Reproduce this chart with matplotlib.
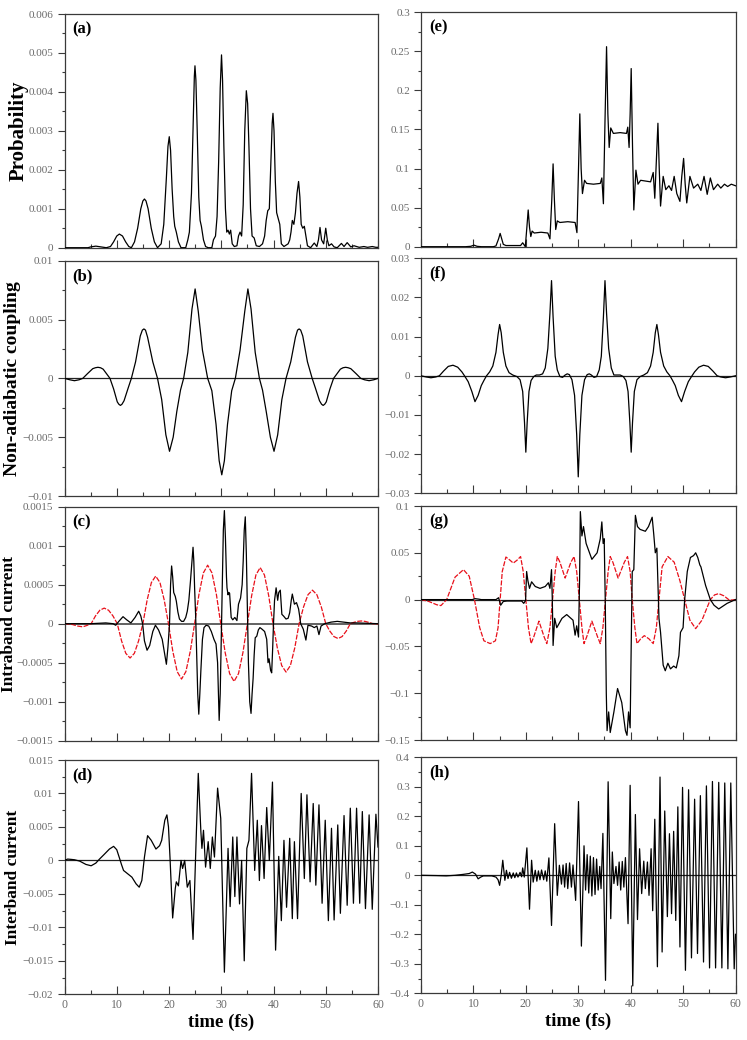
import matplotlib
matplotlib.use("Agg")
import matplotlib.pyplot as plt
from matplotlib.ticker import MultipleLocator

plt.rcParams['font.family'] = ['Liberation Serif', 'DejaVu Serif']
plt.rcParams['axes.unicode_minus'] = True

# ---------------- data (time in fs) ----------------
time_ticks = [0, 10, 20, 30, 40, 50, 60]
time_labels = ['0', '10', '20', '30', '40', '50', '60']

# (a) excitation probability, weak field
a_pts = [(0,0),(4.5,0),(5.0,0.00002),(6.0,0.00004),(7.0,0.00002),(8.0,0.0),(8.8,0.00003),(9.4,0.00015),
         (10.0,0.0003),(10.5,0.00035),(11.1,0.0003),(11.7,0.00015),(12.3,0.00003),(12.8,0.0),
         (13.4,0.00015),(14.0,0.0005),(14.6,0.001),(15.0,0.0012),(15.3,0.00125),(15.6,0.0012),(16.0,0.001),
         (16.6,0.0005),(17.2,0.00015),(17.8,0.0),(18.5,0.0001),(19.0,0.0006),(19.5,0.0018),(19.8,0.0026),
         (20.05,0.00285),(20.3,0.0025),(20.6,0.0015),(20.9,0.0008),(21.1,0.00055),(21.4,0.0004),(21.8,0.00015),
         (22.3,0.0),(23.2,0.0),(23.6,0.0002),(23.9,0.0004),(24.3,0.0014),(24.6,0.003),(24.85,0.0044),
         (24.97,0.00467),(25.15,0.0043),(25.4,0.003),(25.7,0.0013),(25.95,0.0007),(26.2,0.00055),(26.6,0.0002),
         (27.0,0.00003),(27.5,0.0),(28.2,0.0),(28.5,0.0002),(28.9,0.0003),(29.2,0.0008),(29.5,0.0022),
         (29.8,0.0041),(30.05,0.00495),(30.25,0.0043),(30.5,0.0026),(30.8,0.001),(31.05,0.0004),(31.3,0.00045),
         (31.55,0.00035),(31.8,0.00045),(32.1,0.0001),(32.5,0.00003),(33.0,0.00005),(33.3,0.0003),(33.6,0.0004),
         (33.9,0.0003),(34.2,0.0011),(34.5,0.003),(34.8,0.00403),(35.05,0.0037),(35.3,0.0026),(35.6,0.001),
         (35.9,0.0003),(36.3,0.00025),(36.7,0.00005),(37.3,0.00003),(37.9,0.0001),(38.3,0.0003),(38.6,0.0007),
         (38.9,0.00095),(39.2,0.001),(39.5,0.0022),(39.75,0.0032),(39.9,0.00345),(40.1,0.003),(40.35,0.0017),
         (40.6,0.0009),(40.9,0.00075),(41.2,0.0006),(41.5,0.0001),(42.0,0.00003),(42.8,0.0001),(43.1,0.0002),
         (43.35,0.0004),(43.6,0.0007),(43.9,0.0006),(44.2,0.0009),(44.5,0.0014),(44.8,0.0017),(45.05,0.0013),
         (45.3,0.0006),(45.6,0.0005),(45.9,0.00055),(46.2,0.0003),(46.5,0.00005),(47.1,0.0),(47.8,0.00012),
         (48.3,0.00003),(48.6,0.0002),(48.9,0.00052),(49.2,0.0002),(49.6,0.0001),(49.8,0.0003),(50.0,0.0005),
         (50.3,0.0002),(50.6,0.00005),(51.1,0.0001),(51.6,0.00002),(52.2,0.0),(53.0,0.00011),(53.5,0.00003),
         (54.1,0.00013),(54.8,0.00002),(55.4,0.00005),(56.4,0.00001),(57.3,0.00003),(58.0,0.00001),
         (58.9,0.00003),(59.6,0.00001),(60,0.00001)]

# (b) non-adiabatic coupling, weak field
b_pts = [(0,0),(1.0,-0.00012),(1.9,-0.0002),(2.8,-0.00012),(3.5,0),(4.4,0.0004),(5.4,0.00082),(5.9,0.0009),
         (6.4,0.00094),(6.9,0.0009),(7.4,0.00078),(8.2,0.0003),(8.7,0),(9.4,-0.0009),(10.1,-0.002),
         (10.4,-0.0022),(10.7,-0.0023),(11.0,-0.0022),(11.4,-0.0019),(12.2,-0.0008),(12.8,0),(13.6,0.0014),
         (14.5,0.0036),(14.9,0.0041),(15.2,0.0042),(15.5,0.0041),(15.9,0.0035),(16.9,0.0014),(17.8,0),
         (18.6,-0.0018),(19.4,-0.0048),(20.1,-0.0062),(20.8,-0.005),(21.5,-0.0028),(22.2,-0.001),
         (22.8,0),(23.6,0.0022),(24.4,0.0059),(25.0,0.0076),(25.6,0.0057),(26.4,0.0024),(27.4,0),
         (28.2,-0.00105),(29.0,-0.0039),(29.6,-0.007),(30.1,-0.0082),(30.6,-0.007),(31.2,-0.0039),
         (32.0,-0.00105),(32.7,0),(33.6,0.0024),(34.5,0.0057),(35.1,0.0076),(35.7,0.0059),(36.5,0.0022),
         (37.3,0),(37.9,-0.001),(38.6,-0.0028),(39.4,-0.005),(40.1,-0.0062),(40.8,-0.0048),(41.6,-0.0018),
         (42.4,0),(43.3,0.0014),(44.2,0.0035),(44.6,0.0041),(44.9,0.0042),(45.2,0.0041),(45.6,0.0036),
         (46.5,0.0014),(47.4,0),(48.0,-0.0008),(48.8,-0.0019),(49.2,-0.0022),(49.5,-0.0023),(49.8,-0.0022),
         (50.1,-0.002),(50.8,-0.0009),(51.5,0),(52.0,0.0003),(52.8,0.00078),(53.3,0.0009),(53.8,0.00094),
         (54.3,0.0009),(54.8,0.00082),(55.8,0.0004),(56.7,0),(57.4,-0.00012),(58.3,-0.0002),
         (59.2,-0.00012),(60,0)]

# (c) intraband current (black) and field-like reference (red), weak field
c_black_pts = [(0,0),(5,0),(7.9,0.00001),(9.3,0),(9.8,-0.00002),(10.4,0.00003),(11.2,0.00009),(11.9,0.00005),
         (12.7,0.00001),(13.5,0.00008),(14.2,0.00016),(14.6,0.0001),(14.95,0),(15.3,-0.00022),(15.8,-0.00034),
         (16.3,-0.00028),(16.9,-0.0001),(17.4,-0.00002),(18.0,-0.00008),(18.7,-0.0002),(19.2,-0.0004),
         (19.5,-0.00052),(19.8,-0.0003),(20.1,0.0),(20.3,0.0005),(20.5,0.00074),(20.7,0.0006),(20.9,0.0004),
         (21.2,0.00035),(21.4,0.00029),(21.7,0.00015),(22.0,0.00006),(22.4,0.00003),(22.8,0.00003),
         (23.2,0.00008),(23.5,0.00016),(23.8,0.0003),(24.1,0.00054),(24.4,0.0008),(24.6,0.00098),
         (24.75,0.0008),(24.9,0.00046),(25.1,0.0001),(25.3,-0.0004),(25.5,-0.0009),(25.7,-0.00116),
         (25.9,-0.0009),(26.1,-0.0006),(26.4,-0.0002),(26.7,-0.00005),(27.1,-0.00002),(27.6,-0.00003),
         (28.1,-0.0001),(28.6,-0.0002),(29.0,-0.00026),(29.3,-0.0005),(29.6,-0.00124),(29.8,-0.0009),
         (30.0,-0.0002),(30.2,0.0005),(30.4,0.0012),(30.6,0.00145),(30.8,0.0011),(31.0,0.0006),(31.1,0.00046),
         (31.3,0.00037),(31.45,0.0004),(31.6,0.00039),(31.9,0.00008),(32.2,0.00005),(32.6,0.00008),
         (33.0,0.00004),(33.3,0.00025),(33.7,0.00033),(34.0,0.0005),(34.2,0.0008),(34.4,0.0012),(34.6,0.00137),
         (34.8,0.0009),(35.0,0.0002),(35.2,-0.0005),(35.45,-0.001),(35.7,-0.00115),(35.9,-0.0009),
         (36.1,-0.0007),(36.3,-0.0004),(36.5,-0.00018),(36.8,-0.00016),(37.1,-0.00008),(37.4,-0.00005),
         (37.8,-0.00007),(38.3,-0.0001),(38.7,-0.0002),(38.95,-0.0005),(39.15,-0.00045),(39.45,-0.0006),
         (39.65,-0.00063),(39.85,-0.0003),(40.0,0.0),(40.2,0.0003),(40.5,0.00046),(40.8,0.0003),(41.0,0.0004),
         (41.3,0.00043),(41.6,0.00012),(41.9,0.0001),(42.4,0.00006),(42.8,0.00007),(43.1,0.00014),
         (43.4,0.0003),(43.6,0.00038),(44.0,0.00025),(44.4,0.00027),(44.8,0.00019),(45.0,0.0001),(45.2,0),
         (45.7,-0.00007),(46.2,-0.00021),(46.6,-0.00002),(47.3,-0.00003),(47.8,-0.00005),(48.3,-0.00003),
         (48.7,-0.00014),(49.1,-0.00003),(49.8,0),(51.0,0.00002),(52.2,0.00003),(53.5,0.00002),(54.7,0.00001),
         (56,0.00001),(60,0)]
c_red_pts = [(0,0),(1.5,-0.00001),(2.5,-0.00003),(3.5,-0.00004),(4.4,-0.00002),
         (5.1,0),(5.93,0.0001),(6.77,0.000173),(7.6,0.0002),(8.43,0.000173),(9.27,0.0001),
         (10.1,0),(10.92,-0.00022),(11.73,-0.00038),(12.55,-0.00044),(13.37,-0.00038),(14.18,-0.00022),
         (15.0,0),(15.82,0.000305),(16.63,0.000528),(17.45,0.00061),(18.27,0.000528),(19.08,0.000305),
         (19.9,0),(20.73,-0.000355),(21.57,-0.000615),(22.4,-0.00071),(23.23,-0.000615),(24.07,-0.000355),
         (24.9,0),(25.73,0.000375),(26.57,0.00065),(27.4,0.00075),(28.23,0.00065),(29.07,0.000375),
         (29.9,0),(30.75,-0.00037),(31.6,-0.00064),(32.45,-0.00074),(33.3,-0.00064),(34.15,-0.00037),
         (35.0,0),(35.82,0.00036),(36.63,0.000624),(37.45,0.00072),(38.27,0.000624),(39.08,0.00036),
         (39.9,0),(40.73,-0.00031),(41.57,-0.000537),(42.4,-0.00062),(43.23,-0.000537),(44.07,-0.00031),
         (44.9,0),(45.75,0.000215),(46.6,0.000372),(47.45,0.00043),(48.3,0.000372),(49.15,0.000215),
         (50.0,0),(50.78,-0.000095),(51.57,-0.000165),(52.35,-0.00019),(53.13,-0.000165),(53.92,-0.000095),
         (54.7,0),(55.4,0.0000175),(56.1,0.00003),(56.8,0.000035),(57.5,0.00003),(58.2,0.0000175),
         (59.0,0),(60,-0.000005)]

# (d) interband current, weak field
d_pts = [(0,0),(0.6,0.0002),(1.3,0.00015),(1.9,0.0001),(2.9,-0.0001),(4.1,-0.0006),(5.1,-0.0008),(6.0,-0.0004),
         (6.7,0.0002),(7.6,0.0009),(8.6,0.0017),(9.4,0.0021),(10.0,0.0016),(10.5,0.0004),(10.9,-0.0006),
         (11.3,-0.0015),(12.1,-0.002),(12.9,-0.0025),(13.7,-0.0035),(14.3,-0.004),(14.8,-0.003),(15.3,0.0005),
         (15.9,0.0037),(16.6,0.003),(17.5,0.0017),(18.2,0.0022),(18.6,0.003),(19.2,0.006),(19.6,0.0068),
         (19.9,0.005),(20.2,0.0003),(20.7,-0.0086),(21.2,-0.0042),(21.4,-0.0032),(21.8,-0.0038),(22.3,0.0),
         (22.6,-0.0012),(23.0,0.0),(23.5,-0.004),(24.0,-0.003),(24.6,-0.0118),(25.1,0.0008),(25.6,0.013),
         (26.1,0.0043),(26.3,0.0018),(26.6,0.0045),(27.0,-0.001),(27.5,0.0028),(27.9,-0.0012),(28.3,0.0035),
         (28.7,0.0005),(29.3,0.0108),(29.9,0.0063),(30.6,-0.0167),(31.3,0.0018),(31.7,-0.0069),(32.2,0.0035),
         (32.6,-0.0054),(33.0,0.0035),(33.5,-0.0065),(33.9,0.0),(34.4,-0.015),(34.9,0.0018),(35.3,0.003),
         (35.8,0.013),(36.4,-0.0015),(36.9,0.006),(37.3,-0.003),(37.7,0.0052),(38.2,-0.0027),(38.7,0.0079),
         (39.2,0.0),(39.8,0.0117),(40.4,-0.0134),(41.0,0.0006),(41.5,-0.009),(42.0,0.003),(42.5,-0.007),
         (43.1,0.0033),(43.6,-0.0087),(44.0,0.0028),(44.6,-0.0087),(45.3,0.01),(45.9,-0.0027),(46.4,0.0098),
         (47.0,-0.0032),(47.6,0.0085),(48.1,-0.0037),(48.7,0.0083),(49.3,-0.0064),(49.9,0.006),(50.5,-0.009),
         (51.1,0.0048),(51.6,-0.0089),(52.3,0.0053),(52.8,-0.0079),(53.5,0.0067),(54.1,-0.0067),(54.7,0.0078),
         (55.3,-0.0064),(55.9,0.0078),(56.5,-0.0064),(57.0,0.0073),(57.6,-0.0072),(58.3,0.0068),(58.9,-0.0073),
         (59.6,0.0069),(60,0.002)]

# (e) excitation probability, strong field
e_pts = [(0,0),(8.5,0),(9.5,0.0005),(10.1,0.002),(10.7,0.0005),(11.5,0),(13.8,0),(14.3,0.001),(14.8,0.01),
         (15.1,0.017),(15.4,0.01),(15.7,0.003),(16.2,0.0015),(19.0,0.0015),(19.4,0.005),(19.9,0.0),
         (20.2,0.025),(20.45,0.047),(20.7,0.025),(20.95,0.013),(21.2,0.02),(21.6,0.0175),(22.9,0.0185),
         (24.2,0.0175),(24.6,0.01),(24.95,0.06),(25.2,0.106),(25.45,0.06),(25.7,0.022),(26.0,0.033),
         (26.5,0.031),(28.0,0.032),(29.4,0.031),(29.75,0.018),(30.05,0.1),(30.3,0.17),(30.55,0.1),(30.8,0.068),
         (31.2,0.085),(31.6,0.081),(32.9,0.08),(34.2,0.081),(34.5,0.088),(34.8,0.055),(35.1,0.16),(35.4,0.256),
         (35.65,0.17),(35.9,0.127),(36.2,0.152),(36.7,0.145),(38.0,0.146),(39.2,0.145),(39.45,0.153),
         (39.7,0.127),(39.9,0.17),(40.1,0.228),(40.35,0.13),(40.6,0.047),(41.0,0.098),(41.4,0.08),(41.9,0.085),
         (43.8,0.083),(44.3,0.095),(44.6,0.062),(44.9,0.11),(45.2,0.158),(45.45,0.1),(45.7,0.052),(46.2,0.09),
         (46.7,0.073),(47.3,0.078),(47.8,0.072),(48.3,0.09),(48.8,0.068),(49.4,0.058),(49.75,0.09),(50.1,0.113),
         (50.4,0.08),(50.7,0.056),(51.3,0.09),(52.0,0.075),(52.8,0.08),(53.4,0.072),(54.0,0.09),(54.6,0.067),
         (55.2,0.088),(55.8,0.073),(56.6,0.08),(57.2,0.075),(57.9,0.08),(58.5,0.077),(59.2,0.08),(60,0.078)]

# (f) non-adiabatic coupling, strong field
f_pts = [(0,0),(1.0,-0.0003),(1.9,-0.0005),(2.8,-0.0003),(3.5,0),(4.3,0.0012),(5.2,0.0024),(6.1,0.0027),
         (7.0,0.0022),(7.8,0.001),(8.3,0),(9.0,-0.0015),(9.7,-0.004),(10.3,-0.0066),(10.9,-0.005),(11.5,-0.0025),
         (12.0,-0.0012),(12.5,0),(13.1,0.001),(13.7,0.0025),(14.3,0.006),(14.7,0.0105),(15.0,0.0131),
         (15.3,0.011),(15.7,0.006),(16.2,0.0025),(16.8,0.0008),(17.5,0.0002),(18.3,-0.0002),(18.9,-0.001),
         (19.4,-0.004),(19.75,-0.012),(20.0,-0.0195),(20.25,-0.012),(20.6,-0.004),(21.0,-0.0012),(21.5,-0.0002),
         (22.0,0.0002),(22.6,0.0002),(23.2,0.0005),(23.7,0.002),(24.2,0.007),(24.6,0.016),(24.9,0.0243),
         (25.2,0.015),(25.6,0.005),(26.0,0.0015),(26.5,-0.0002),(27.0,-0.0004),(27.5,0.0002),(27.9,0.0005),
         (28.3,0.0003),(28.8,-0.001),(29.3,-0.005),(29.7,-0.015),(30.0,-0.0258),(30.3,-0.015),(30.7,-0.005),
         (31.2,-0.001),(31.7,0.0003),(32.1,0.0005),(32.5,0.0002),(33.0,-0.0004),(33.5,-0.0002),(34.0,0.0015),
         (34.4,0.005),(34.8,0.015),(35.1,0.0243),(35.4,0.016),(35.8,0.007),(36.3,0.002),(36.8,0.0002),
         (37.4,0.0002),(38.0,0.0002),(38.6,-0.0002),(39.1,-0.0012),(39.5,-0.004),(39.85,-0.012),(40.1,-0.0195),
         (40.35,-0.012),(40.7,-0.004),(41.2,-0.001),(41.8,-0.0002),(42.5,0.0002),(43.2,0.0008),(43.8,0.0025),
         (44.3,0.006),(44.7,0.011),(45.0,0.0131),(45.3,0.0105),(45.7,0.006),(46.3,0.0025),(46.9,0.001),(47.5,0),
         (48.0,-0.0012),(48.5,-0.0025),(49.1,-0.005),(49.7,-0.0066),(50.3,-0.004),(51.0,-0.0015),(51.7,0),
         (52.2,0.001),(53.0,0.0022),(53.9,0.0027),(54.8,0.0024),(55.7,0.0012),(56.5,0),(57.2,-0.0003),
         (58.1,-0.0005),(59.0,-0.0003),(60,0)]

# (g) intraband current (black) and field-like reference (red), strong field
g_black_pts = [(0,0),(9.8,0),(10.3,0.001),(11.0,0.0005),(11.5,0),(14.3,0),(14.8,0.002),(15.2,-0.006),
         (15.7,-0.002),(16.4,-0.0015),(19.2,-0.0015),(19.6,-0.004),(19.95,-0.001),(20.15,0.03),(20.4,0.02),
         (20.7,0.012),(21.1,0.019),(21.8,0.014),(22.7,0.012),(23.7,0.014),(24.3,0.018),(24.6,0.012),
         (24.9,0.032),(25.05,0.0),(25.2,-0.049),(25.5,-0.02),(25.9,-0.03),(26.9,-0.02),(27.8,-0.016),
         (29.0,-0.022),(29.4,-0.038),(29.7,-0.028),(30.05,-0.04),(30.25,0.02),(30.4,0.094),(30.7,0.068),
         (31.0,0.078),(31.5,0.06),(32.6,0.043),(33.6,0.05),(34.2,0.065),(34.5,0.083),(34.75,0.06),(34.95,0.065),
         (35.15,0.0),(35.35,-0.1),(35.5,-0.14),(35.8,-0.12),(36.1,-0.142),(36.8,-0.12),(37.5,-0.095),
         (38.3,-0.11),(39.0,-0.14),(39.3,-0.145),(39.6,-0.12),(39.9,-0.137),(40.1,-0.05),(40.3,0.03),
         (40.6,0.032),(40.9,0.09),(41.3,0.078),(41.8,0.075),(42.8,0.073),(43.4,0.078),(44.1,0.088),(44.4,0.07),
         (44.7,0.05),(45.0,0.055),(45.4,-0.02),(45.7,-0.035),(46.2,-0.07),(46.6,-0.076),(47.1,-0.068),
         (47.6,-0.074),(48.2,-0.071),(48.7,-0.073),(49.2,-0.06),(49.5,-0.035),(50.0,-0.03),(50.3,0.0),
         (50.8,0.03),(51.4,0.045),(52.0,0.047),(52.4,0.05),(52.8,0.045),(53.2,0.037),(53.4,0.035),(54.3,0.015),
         (55.2,0),(55.9,-0.006),(56.8,-0.01),(58.4,-0.004),(60,0)]
g_red_pts = [(0,0),(1.5,-0.002),(3.0,-0.0055),(3.8,-0.0064),(4.9,0),(6.5,0.024),(8.1,0.032),(9.2,0.025),
         (10.2,0),(11.2,-0.03),(12.0,-0.044),(13.2,-0.047),(14.2,-0.044),(14.7,-0.03),(15.1,0),(15.5,0.03),
         (16.2,0.0455),(17.0,0.042),(17.6,0.039),(18.3,0.042),(19.0,0.046),(19.5,0.03),(20.0,0),(20.5,-0.03),
         (21.0,-0.047),(21.5,-0.04),(22.5,-0.023),(23.5,-0.04),(24.0,-0.047),(24.6,-0.03),(25.1,0),(25.6,0.03),
         (26.0,0.046),(26.5,0.04),(27.5,0.023),(28.6,0.04),(29.2,0.046),(29.7,0.03),(30.2,0),(30.7,-0.03),
         (31.1,-0.047),(31.6,-0.04),(32.6,-0.023),(33.7,-0.04),(34.2,-0.047),(34.7,-0.03),(35.2,0),(35.7,0.03),
         (36.1,0.046),(36.6,0.04),(37.6,0.023),(38.8,0.04),(39.4,0.046),(39.9,0.03),(40.3,0),(40.8,-0.03),
         (41.2,-0.047),(41.9,-0.042),(42.6,-0.0385),(43.5,-0.042),(44.3,-0.047),(44.9,-0.03),(45.4,0),
         (46.0,0.035),(47.1,0.046),(48.3,0.04),(49.4,0.02),(50.3,0),(51.3,-0.022),(52.4,-0.031),(53.6,-0.022),
         (55.2,0),(56.0,0.005),(56.8,0.0064),(57.8,0.004),(58.7,0),(59.3,-0.0005),(60,0)]

# (h) interband current, strong field
h_pts = [(0,0),(3,-0.001),(4.8,-0.002),(6.5,0.0),(8.0,0.003),(9.2,0.006),(9.8,0.011),(10.4,0.004),
         (10.9,-0.012),(11.4,-0.006),(11.9,-0.002),(13.5,-0.002),(14.3,-0.006),(14.7,-0.015),(15.0,-0.034),
         (15.3,0.0),(15.6,0.051),(16.0,-0.017),(16.3,0.017),(16.6,-0.011),(16.9,0.01),(17.25,-0.01),(17.6,0.008),
         (17.9,-0.008),(18.2,0.008),(18.5,-0.006),(18.9,0.01),(19.2,-0.005),(19.4,0.025),(19.7,-0.006),
         (20.2,0.093),(20.7,-0.115),(21.1,0.051),(21.4,-0.023),(21.8,0.017),(22.1,-0.02),(22.4,0.015),
         (22.7,-0.015),(23.0,0.018),(23.4,-0.015),(23.7,0.015),(24.0,-0.02),(24.4,0.059),(24.9,-0.17),
         (25.5,0.175),(26.0,-0.068),(26.4,0.034),(26.8,-0.03),(27.1,0.035),(27.4,-0.04),(27.7,0.04),
         (28.0,-0.045),(28.35,0.042),(28.7,-0.04),(29.0,0.035),(29.5,-0.085),(30.05,0.25),(30.6,-0.24),
         (31.1,0.1),(31.4,-0.05),(31.7,0.07),(32.0,-0.06),(32.3,0.065),(32.6,-0.07),(32.9,0.06),(33.2,-0.065),
         (33.5,0.055),(33.8,-0.05),(34.1,0.03),(34.35,-0.045),(34.7,0.142),(35.2,-0.356),(35.7,0.317),
         (36.2,-0.147),(36.5,0.079),(36.8,-0.028),(37.2,0.03),(37.5,-0.034),(37.8,0.045),(38.1,-0.05),
         (38.4,0.047),(38.7,-0.04),(39.0,0.06),(39.5,-0.164),(39.9,0.305),(40.4,-0.375),(40.9,0.206),
         (41.3,-0.15),(41.7,0.09),(42.1,-0.062),(42.5,0.048),(42.8,-0.045),(43.2,0.045),(43.5,-0.068),
         (43.9,0.09),(44.2,-0.12),(44.6,0.19),(45.1,-0.31),(45.6,0.333),(46.0,-0.26),(46.5,0.218),(47.0,-0.14),
         (47.4,0.141),(47.8,-0.13),(48.2,0.149),(48.6,-0.153),(49.0,0.232),(49.4,-0.243),(49.9,0.298),
         (50.45,-0.322),(51.05,0.29),(51.6,-0.28),(52.2,0.258),(52.75,-0.265),(53.3,0.27),(53.9,-0.294),
         (54.45,0.303),(55.05,-0.314),(55.6,0.318),(56.2,-0.314),(56.8,0.315),(57.4,-0.314),(57.95,0.313),
         (58.55,-0.317),(59.1,0.313),(59.75,-0.317),(60.0,-0.2)]

# y tick values / labels
a_yticks = [0, 0.001, 0.002, 0.003, 0.004, 0.005, 0.006]
a_ylabels = ['0', '0.001', '0.002', '0.003', '0.004', '0.005', '0.006']
b_yticks = [-0.01, -0.005, 0, 0.005, 0.01]
b_ylabels = ['\u22120.01', '\u22120.005', '0', '0.005', '0.01']
c_yticks = [-0.0015, -0.001, -0.0005, 0, 0.0005, 0.001, 0.0015]
c_ylabels = ['\u22120.0015', '\u22120.001', '\u22120.0005', '0', '0.0005', '0.001', '0.0015']
d_yticks = [-0.02, -0.015, -0.01, -0.005, 0, 0.005, 0.01, 0.015]
d_ylabels = ['\u22120.02', '\u22120.015', '\u22120.01', '\u22120.005', '0', '0.005', '0.01', '0.015']
e_yticks = [0, 0.05, 0.1, 0.15, 0.2, 0.25, 0.3]
e_ylabels = ['0', '0.05', '0.1', '0.15', '0.2', '0.25', '0.3']
f_yticks = [-0.03, -0.02, -0.01, 0, 0.01, 0.02, 0.03]
f_ylabels = ['\u22120.03', '\u22120.02', '\u22120.01', '0', '0.01', '0.02', '0.03']
g_yticks = [-0.15, -0.1, -0.05, 0, 0.05, 0.1]
g_ylabels = ['\u22120.15', '\u22120.1', '\u22120.05', '0', '0.05', '0.1']
h_yticks = [-0.4, -0.3, -0.2, -0.1, 0, 0.1, 0.2, 0.3, 0.4]
h_ylabels = ['\u22120.4', '\u22120.3', '\u22120.2', '\u22120.1', '0', '0.1', '0.2', '0.3', '0.4']

row_ylabels = ['Probability', 'Non-adiabatic coupling', 'Intraband current', 'Interband current']
panel_letters = ['(a)', '(b)', '(c)', '(d)', '(e)', '(f)', '(g)', '(h)']

# ---------------- figure ----------------
W, H = 747, 1040
fig = plt.figure(figsize=(W / 100, H / 100), dpi=100)

def px_axes(x0, x1, top, bottom):
    return fig.add_axes([x0 / W, 1 - bottom / H, (x1 - x0) / W, (bottom - top) / H])

LX0, LX1 = 64.5, 378.0
RX0, RX1 = 421.0, 735.5
left_rows = [(14, 247.7), (260.7, 496), (506.7, 740.7), (760, 994.3)]
right_rows = [(12.3, 246.7), (258.3, 493.3), (506, 740), (757.3, 993.3)]

axes_left = [px_axes(LX0, LX1, t, b) for t, b in left_rows]
axes_right = [px_axes(RX0, RX1, t, b) for t, b in right_rows]

TICK_COLOR = '#6a6a6a'
SPINE_COLOR = '#3a3a3a'

def style(ax, yticks, ylabels, yminor, bottom_row):
    ax.set_xlim(0, 60)
    ax.set_ylim(yticks[0], yticks[-1])
    ax.set_xticks(time_ticks)
    ax.xaxis.set_minor_locator(MultipleLocator(5))
    if bottom_row:
        ax.set_xticklabels(time_labels)
    else:
        ax.set_xticklabels([])
    ax.set_yticks(yticks)
    ax.set_yticklabels(ylabels)
    ax.yaxis.set_minor_locator(MultipleLocator(yminor))
    ax.tick_params(axis='x', which='major', direction='in', length=5.5, width=0.8,
                   color=SPINE_COLOR, labelcolor=TICK_COLOR, labelsize=8.5, pad=3.5, top=False)
    ax.tick_params(axis='x', which='minor', direction='in', length=3, width=0.8,
                   color=SPINE_COLOR, top=False)
    ax.tick_params(axis='y', which='major', direction='out', length=5, width=0.8,
                   color=SPINE_COLOR, labelcolor=TICK_COLOR, labelsize=8, pad=3, right=False)
    ax.tick_params(axis='y', which='minor', direction='out', length=2.5, width=0.8,
                   color=SPINE_COLOR, right=False)
    for s in ax.spines.values():
        s.set_color(SPINE_COLOR)
        s.set_linewidth(0.9)

def plot_pts(ax, pts, **kw):
    t = [p[0] for p in pts]
    v = [p[1] for p in pts]
    ax.plot(t, v, **kw)

black = dict(color='black', lw=0.9, zorder=3)
red = dict(color='#e8101a', lw=0.9, ls=(0, (4, 1.2)), zorder=2)
zero = dict(color='#222222', lw=0.9, zorder=1)

# left column
ax = axes_left[0]
plot_pts(ax, a_pts, **black)
style(ax, a_yticks, a_ylabels, 0.0005, False)

ax = axes_left[1]
ax.axhline(0, **zero)
plot_pts(ax, b_pts, **black)
style(ax, b_yticks, b_ylabels, 0.0025, False)

ax = axes_left[2]
ax.axhline(0, color='#555555', lw=1.3, zorder=1)
plot_pts(ax, c_red_pts, **red)
plot_pts(ax, c_black_pts, **black)
style(ax, c_yticks, c_ylabels, 0.00025, False)

ax = axes_left[3]
ax.axhline(0, **zero)
plot_pts(ax, d_pts, **black)
style(ax, d_yticks, d_ylabels, 0.0025, True)

# right column
ax = axes_right[0]
plot_pts(ax, e_pts, **black)
style(ax, e_yticks, e_ylabels, 0.025, False)

ax = axes_right[1]
ax.axhline(0, **zero)
plot_pts(ax, f_pts, **black)
style(ax, f_yticks, f_ylabels, 0.005, False)

ax = axes_right[2]
ax.axhline(0, **zero)
plot_pts(ax, g_red_pts, **red)
plot_pts(ax, g_black_pts, **black)
style(ax, g_yticks, g_ylabels, 0.025, False)

ax = axes_right[3]
ax.axhline(0, **zero)
plot_pts(ax, h_pts, **black)
style(ax, h_yticks, h_ylabels, 0.05, True)

# y labels (left column only)
ylabel_sizes = [15.0, 14.0, 12.5, 12.5]
ylabel_x = [-0.147, -0.166, -0.176, -0.165]
for ax, lab, fs, xx in zip(axes_left, row_ylabels, ylabel_sizes, ylabel_x):
    ax.set_ylabel(lab, fontsize=fs, fontweight='bold', va='center')
    ax.yaxis.set_label_coords(xx, 0.5)

# x labels (bottom row)
for ax in (axes_left[3], axes_right[3]):
    ax.set_xlabel('time (fs)', fontsize=13.5, fontweight='bold', va='center')
    ax.xaxis.set_label_coords(0.5, -0.118)

# panel letters
for ax, letter in zip(axes_left + axes_right, panel_letters):
    ax.text(0.026, 0.968, letter, transform=ax.transAxes, fontsize=12,
            fontweight='bold', va='top', ha='left')

fig.savefig('out.png', dpi=100)
